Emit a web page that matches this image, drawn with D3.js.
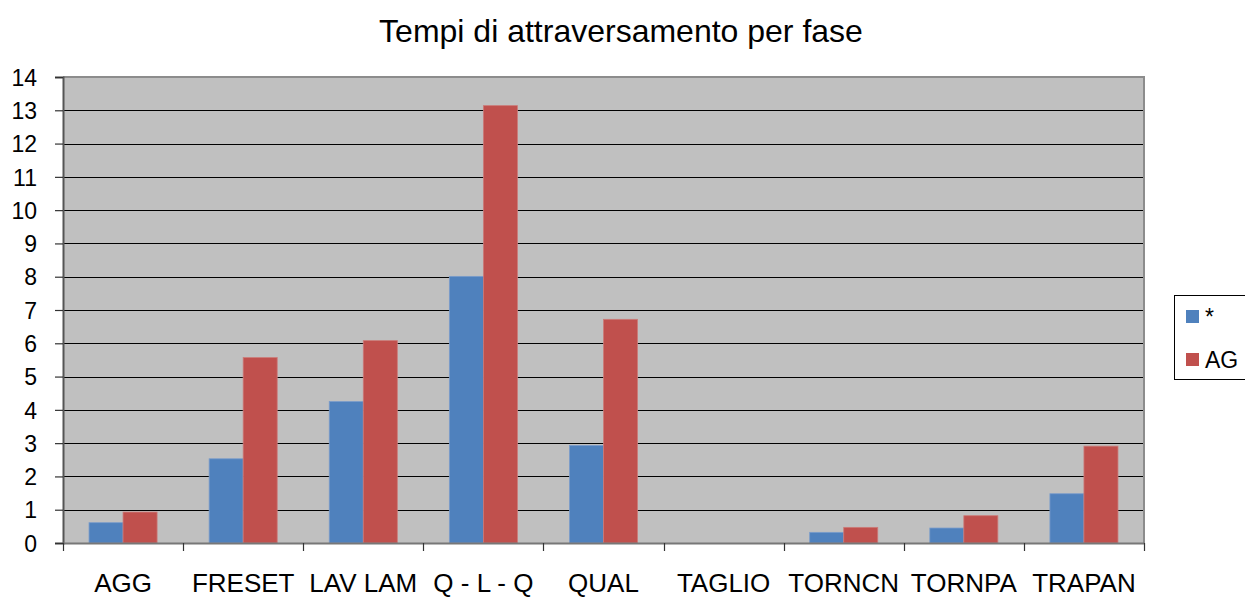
<!DOCTYPE html>
<html>
<head>
<meta charset="utf-8">
<script src="https://cdn.jsdelivr.net/npm/d3@7"></script>
<style>
  body { margin: 0; background: #fff; }
  svg { display: block; font-family: "Liberation Sans", Arial, sans-serif; }
</style>
</head>
<body>
<svg id="chart" width="1245" height="597"></svg>
<script>
const title = "Tempi di attraversamento per fase";
const categories = ["AGG", "FRESET", "LAV LAM", "Q - L - Q", "QUAL", "TAGLIO", "TORNCN", "TORNPA", "TRAPAN"];
const seriesNames = ["*", "AG"];
const seriesStar = [0.61, 2.53, 4.25, 8.01, 2.93, 0, 0.32, 0.45, 1.48];
const seriesAG = [0.93, 5.57, 6.08, 13.14, 6.72, 0, 0.47, 0.82, 2.91];
const yTicks = [0, 1, 2, 3, 4, 5, 6, 7, 8, 9, 10, 11, 12, 13, 14];
const colors = ["#4F81BD", "#C0504D"];

const svg = d3.select("#chart");
const pLeft = 63, pRight = 1144, pTop = 77, pBottom = 543;

const x = d3.scaleBand().domain(categories).range([pLeft, pRight]).paddingInner(0).paddingOuter(0);
const inner = d3.scaleBand().domain(seriesNames).range([0, x.bandwidth()]).paddingInner(0).paddingOuter(0.765);
const y = d3.scaleLinear().domain([0, 14]).range([pBottom, pTop]);

// plot background
svg.append("rect").attr("x", pLeft).attr("y", pTop).attr("width", pRight - pLeft).attr("height", pBottom - pTop)
  .attr("fill", "#C0C0C0");

// gridlines
svg.append("g").selectAll("line").data(yTicks.filter(d => d > 0 && d < 14)).join("line")
  .attr("x1", pLeft).attr("x2", pRight)
  .attr("y1", d => Math.round(y(d)) + 0.5).attr("y2", d => Math.round(y(d)) + 0.5)
  .attr("stroke", "#000").attr("stroke-width", 1.2);

// plot border top & right
svg.append("path")
  .attr("d", `M${pLeft},${pTop}H${pRight}V${pBottom}`)
  .attr("fill", "none").attr("stroke", "#8c8c8c").attr("stroke-width", 2);

// bars
const data = categories.map((c, i) => ({ c, vals: [seriesStar[i], seriesAG[i]] }));
const groups = svg.append("g").selectAll("g").data(data).join("g")
  .attr("transform", d => `translate(${x(d.c)},0)`);
groups.selectAll("rect").data(d => d.vals.map((v, j) => ({ s: seriesNames[j], v, j }))).join("rect")
  .attr("x", d => inner(d.s))
  .attr("width", inner.bandwidth())
  .attr("y", d => y(d.v))
  .attr("height", d => y(0) - y(d.v))
  .attr("fill", d => colors[d.j])
  .attr("stroke", d => d.j === 0 ? "#7A9ccB" : "#CC7A78")
  .attr("stroke-width", d => d.v > 0 ? 0.8 : 0);

// y axis
const yAxis = d3.axisLeft(y).tickValues(yTicks).tickSize(8).tickPadding(18).tickFormat(d3.format("d"));
const gy = svg.append("g").attr("transform", `translate(${pLeft},0)`).call(yAxis);
gy.select(".domain").attr("stroke", "#555").attr("stroke-width", 2);
gy.selectAll(".tick line").attr("stroke", "#333").attr("stroke-width", 1.2);
gy.selectAll(".tick text").attr("font-size", 23).attr("fill", "#000")
  .attr("font-family", "Liberation Sans, Arial, sans-serif").attr("dy", "0.36em");

// x axis
const xAxis = d3.axisBottom(x).tickSize(0).tickPadding(31);
const gx = svg.append("g").attr("transform", `translate(0,${pBottom})`).call(xAxis);
gx.select(".domain").attr("stroke", "#777").attr("stroke-width", 2);
gx.selectAll(".tick text").attr("font-size", 26).attr("fill", "#000")
  .attr("font-family", "Liberation Sans, Arial, sans-serif").attr("dy", "0.71em");
// category boundary ticks
const bounds = categories.map(c => x(c)).concat([pRight]);
gx.append("g").selectAll("line").data(bounds).join("line")
  .attr("x1", d => Math.round(d) + 0.5).attr("x2", d => Math.round(d) + 0.5)
  .attr("y1", 0).attr("y2", 8)
  .attr("stroke", "#333").attr("stroke-width", 1.2);

// title
svg.append("text").attr("x", 621).attr("y", 42).attr("text-anchor", "middle")
  .attr("font-size", 32).attr("fill", "#000").text(title);

// legend
const lg = svg.append("g");
lg.append("rect").attr("x", 1174.5).attr("y", 295.5).attr("width", 80).attr("height", 84)
  .attr("fill", "#fff").attr("stroke", "#000").attr("stroke-width", 1);
seriesNames.forEach((s, i) => {
  const yy = 310 + i * 43;
  lg.append("rect").attr("x", 1186).attr("y", yy).attr("width", 13).attr("height", 13).attr("fill", colors[i]);
  lg.append("text").attr("x", 1205).attr("y", yy + 15).attr("font-size", 23).attr("fill", "#000").text(s);
});
</script>
</body>
</html>
